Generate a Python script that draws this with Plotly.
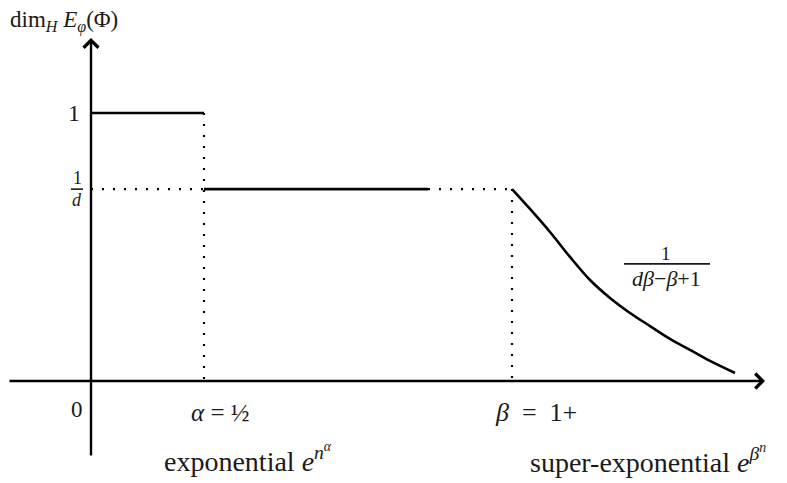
import plotly.graph_objects as go

# horizontal positions (units = distance from the vertical axis)
axis_x = [-83, 674]
axis_y = [-0.284, 1.28]
alpha_x = 113
break_x = 337
beta_x = 421

# levels
one = 1.0
inv_d = 0.716

# decreasing part 1/(d*beta - beta + 1)
curve_x = [421, 439, 459, 479, 499, 519, 539, 559, 579, 599, 619, 644]
curve_y = [0.716, 0.642, 0.556, 0.463, 0.377, 0.310, 0.254, 0.205, 0.157, 0.116, 0.075, 0.030]

FONT = "Liberation Serif, Times New Roman, serif"
BLACK = "#000000"
INK = "#1a1a1a"

fig = go.Figure()


def solid(xs, ys, shape="linear"):
    fig.add_trace(go.Scatter(x=xs, y=ys, mode="lines",
                             line=dict(color=BLACK, width=2.6, shape=shape),
                             hoverinfo="skip"))


def dotted(xs, ys):
    fig.add_trace(go.Scatter(x=xs, y=ys, mode="lines",
                             line=dict(color=BLACK, width=2.2, dash="2px,9px"),
                             hoverinfo="skip"))


# plateau at 1 for alpha < 1/2
solid([0, alpha_x], [one, one])
# plateau at 1/d
solid([alpha_x, break_x], [inv_d, inv_d])
dotted([0, alpha_x], [inv_d, inv_d])
dotted([break_x, beta_x], [inv_d, inv_d])
# vertical guides
dotted([alpha_x, alpha_x], [one, 0])
dotted([beta_x, beta_x], [inv_d, 0])
# decreasing curve
solid(curve_x, curve_y, shape="spline")

# axes with arrow heads
fig.add_annotation(x=axis_x[1], y=0, ax=axis_x[0], ay=0, axref="x", ayref="y",
                   xref="x", yref="y", showarrow=True, arrowhead=4, arrowsize=1.2,
                   arrowwidth=2.4, arrowcolor=BLACK, text="")
fig.add_annotation(x=0, y=axis_y[1], ax=0, ay=axis_y[0], axref="x", ayref="y",
                   xref="x", yref="y", showarrow=True, arrowhead=4, arrowsize=1.2,
                   arrowwidth=2.4, arrowcolor=BLACK, text="")


def label(x, y, text, size=24, xanchor="center"):
    fig.add_annotation(x=x, y=y, xref="x", yref="y", text=text, showarrow=False,
                       xanchor=xanchor, yanchor="middle",
                       font=dict(family=FONT, size=size, color=INK))


def frac_bar(x0, x1, y):
    fig.add_shape(type="line", x0=x0, x1=x1, y0=y, y1=y,
                  line=dict(color=INK, width=1.6))


label(-83, 1.34, "dim<sub><i>H</i></sub> <i>E</i><sub><i>φ</i></sub>(Φ)", size=23, xanchor="left")
label(-9, one, "1", size=24, xanchor="right")
label(-14, 0.757, "1", size=18)
label(-14, 0.675, "<i>d</i>", size=18)
frac_bar(-20, -8, inv_d)
label(-6, -0.108, "0", size=23, xanchor="right")
label(129, -0.116, "<i>α</i>&nbsp;=&nbsp;½", size=25)
label(157, -0.287, "exponential <i>e</i><sup><i>n</i><sup><i>α</i></sup></sup>", size=28)
label(445, -0.119, "<i>β</i>&nbsp;&nbsp;=&nbsp;&nbsp;1+", size=26)
label(557, -0.292, "super-exponential <i>e</i><sup><i>β</i><sup><i>n</i></sup></sup>", size=28)
label(575, 0.476, "1", size=19)
label(575, 0.383, "<i>dβ</i>−<i>β</i>+1", size=22)
frac_bar(533, 619, 0.437)

fig.update_layout(
    width=787, height=483,
    margin=dict(l=0, r=0, t=0, b=0),
    paper_bgcolor="white", plot_bgcolor="white",
    showlegend=False,
    xaxis=dict(range=[-83, 704], visible=False, fixedrange=True),
    yaxis=dict(range=[-0.4104, 1.3918], visible=False, fixedrange=True),
)

fig.write_html("out.html")
